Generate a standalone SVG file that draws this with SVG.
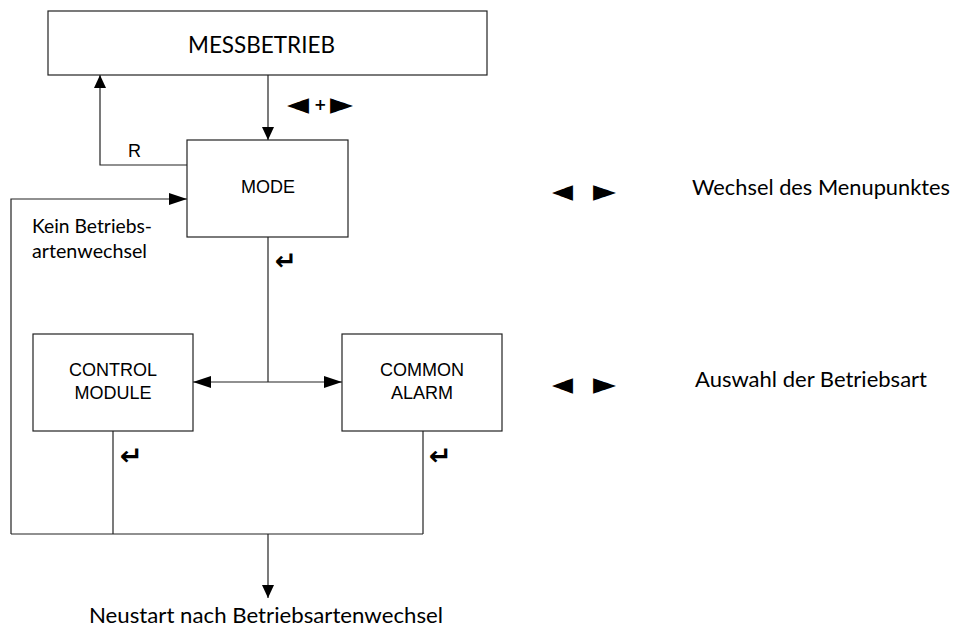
<svg xmlns="http://www.w3.org/2000/svg" width="957" height="627" viewBox="0 0 957 627">
  <style>
    .box { fill: #fff; stroke: #222; stroke-width: 1.2; }
    .wire { fill: none; stroke: #222; stroke-width: 1.2; }
    .arial { font-family: "Liberation Sans", Arial, sans-serif; font-size: 18px; fill: #000; }
    .cal { font-family: Lato, "Open Sans", sans-serif; fill: #000; }
    .sym { font-family: "DejaVu Sans", sans-serif; fill: #000; }
    .tri { font-family: "DejaVu Sans", sans-serif; font-size: 31px; fill: #000; }
    .ret { font-family: "DejaVu Sans", sans-serif; font-size: 26px; font-weight: bold; fill: #000; }
  </style>
  <defs>
    <marker id="av" markerUnits="userSpaceOnUse" markerWidth="13" markerHeight="12" refX="13" refY="6" orient="auto">
      <path d="M0,0 L13,6 L0,12 z" fill="#000"/>
    </marker>
    <marker id="ah" markerUnits="userSpaceOnUse" markerWidth="18" markerHeight="12" refX="18" refY="6" orient="auto">
      <path d="M0,0 L18,6 L0,12 z" fill="#000"/>
    </marker>
  </defs>

  <!-- connectors -->
  <g id="connectors">
    <path class="wire" d="M268,75 V140" marker-end="url(#av)"/>
    <path class="wire" d="M187,165 H100 V75" marker-end="url(#av)"/>
    <path class="wire" d="M11,534 V199 H187" marker-end="url(#ah)"/>
    <path class="wire" d="M268,237 V382"/>
    <path class="wire" d="M268,382 H193" marker-end="url(#ah)"/>
    <path class="wire" d="M268,382 H342" marker-end="url(#ah)"/>
    <path class="wire" d="M113,431 V534"/>
    <path class="wire" d="M423,431 V534"/>
    <path class="wire" d="M11,534 H423"/>
    <path class="wire" d="M268,534 V598" marker-end="url(#av)"/>
  </g>

  <!-- connector labels -->
  <g id="labels">
    <text class="tri" x="287" y="114" textLength="22" lengthAdjust="spacingAndGlyphs">◄</text>
    <text class="sym" x="314" y="110" font-size="15" font-weight="bold">+</text>
    <text class="tri" x="330" y="114" textLength="23" lengthAdjust="spacingAndGlyphs">►</text>
    <text class="arial" x="128" y="157">R</text>
    <text class="cal" x="32" y="233" font-size="20" textLength="120" lengthAdjust="spacingAndGlyphs">Kein Betriebs-</text>
    <text class="cal" x="32" y="258" font-size="20" textLength="115" lengthAdjust="spacingAndGlyphs">artenwechsel</text>
    <text class="ret" x="275" y="270" textLength="22" lengthAdjust="spacingAndGlyphs">↵</text>
    <text class="ret" x="120" y="465" textLength="23" lengthAdjust="spacingAndGlyphs">↵</text>
    <text class="ret" x="429" y="465" textLength="23" lengthAdjust="spacingAndGlyphs">↵</text>
    <text class="cal" x="89" y="623" font-size="22" textLength="354" lengthAdjust="spacingAndGlyphs">Neustart nach Betriebsartenwechsel</text>
  </g>

  <g id="messbetrieb">
    <rect class="box" x="48" y="11" width="439" height="64"/>
    <text class="cal" x="188" y="53" font-size="23" textLength="147" lengthAdjust="spacingAndGlyphs">MESSBETRIEB</text>
  </g>

  <g id="mode">
    <rect class="box" x="187" y="140" width="161" height="97"/>
    <text class="arial" x="268" y="193" text-anchor="middle">MODE</text>
  </g>

  <g id="control-module">
    <rect class="box" x="33" y="334" width="160" height="97"/>
    <text class="arial" x="113" y="376" text-anchor="middle">CONTROL</text>
    <text class="arial" x="113" y="399" text-anchor="middle">MODULE</text>
  </g>

  <g id="common-alarm">
    <rect class="box" x="342" y="334" width="160" height="97"/>
    <text class="arial" x="422" y="376" text-anchor="middle">COMMON</text>
    <text class="arial" x="422" y="399" text-anchor="middle">ALARM</text>
  </g>

  <!-- key -->
  <g id="legend">
    <text class="tri" x="552" y="201" textLength="21" lengthAdjust="spacingAndGlyphs">◄</text>
    <text class="tri" x="593" y="201" textLength="23" lengthAdjust="spacingAndGlyphs">►</text>
    <text class="cal" x="692" y="195" font-size="22" textLength="258" lengthAdjust="spacingAndGlyphs">Wechsel des Menupunktes</text>
    <text class="tri" x="552" y="394" textLength="21" lengthAdjust="spacingAndGlyphs">◄</text>
    <text class="tri" x="593" y="394" textLength="23" lengthAdjust="spacingAndGlyphs">►</text>
    <text class="cal" x="695" y="387" font-size="22" textLength="232" lengthAdjust="spacingAndGlyphs">Auswahl der Betriebsart</text>
  </g>
</svg>
